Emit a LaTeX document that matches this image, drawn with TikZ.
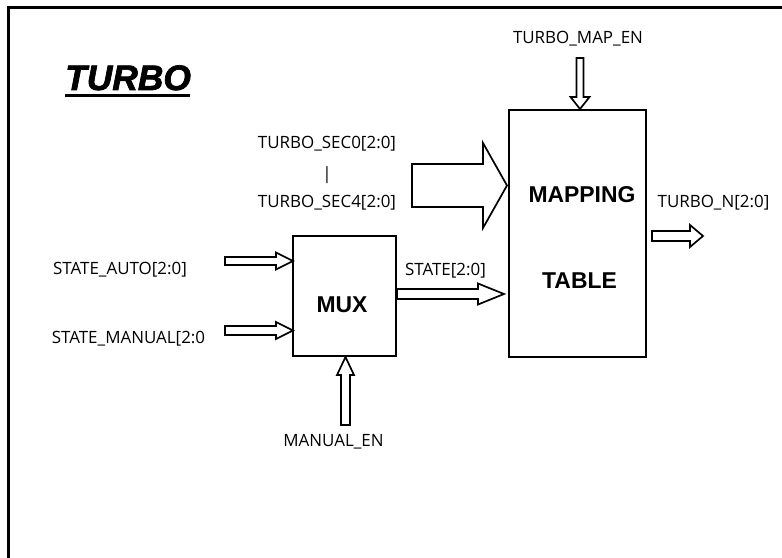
\documentclass[tikz,border=0pt]{standalone}
\usepackage{fontspec}
\setmainfont{Open Sans}
\newfontfamily\arialfont{Liberation Sans}
\newfontfamily\titlefont{Liberation Sans}[FakeBold=2]
\usetikzlibrary{calc}
\tikzset{blkdiag/.style={x=1bp,y=-1bp,font=\fontsize{17}{20}\selectfont}}
\tikzset{blkbox/.style={draw,line width=1.8bp,inner sep=0pt},
         blkname/.style={inner sep=0pt,font=\arialfont\bfseries\fontsize{23}{26}\selectfont},
         sig/.style={inner sep=0pt,anchor=base},
         bus/.style={draw,line width=1.7bp,line join=miter,fill=white}}
% hollow bus arrow: tail, tip, shaft half width, head half width, head length
\newcommand\busarrow[5]{%
  \path ($(#2)!#5!(#1)$) coordinate (hb);
  \draw[bus] ($(#1)!#3!90:(#2)$) -- ($(hb)!#3!-90:(#1)$) -- ($(hb)!#4!-90:(#1)$)
    -- (#2) -- ($(hb)!#4!90:(#1)$) -- ($(hb)!#3!90:(#1)$) -- ($(#1)!#3!-90:(#2)$) -- cycle;}

\begin{document}
\begin{tikzpicture}[blkdiag]
    \useasboundingbox (0,0) rectangle (782,558);
    \clip (0,0) rectangle (782,558);
    \draw[line width=3bp] (8.5,600) -- (8.5,7.5) -- (800,7.5);
    % title
    \node[sig,anchor=base west,font=\titlefont\bfseries\itshape\fontsize{35.5}{40}\selectfont] (title) at (65,90) {TURBO};
    \draw[line width=3.5bp] ($(title.base west)+(0,5.5)$) -- ($(title.base east)+(-1,5.5)$);
    % blocks
    \node[blkbox,minimum width=103bp,minimum height=120bp] (mux) at (344.5,296) {};
    \node[blkbox,minimum width=137bp,minimum height=247bp] (map) at (577.5,233.5) {};
    \node[blkname] (muxname) at (342,304.5) {MUX};
    \node[blkname] (mapname) at (582,195) {MAPPING};
    \node[blkname] (tabname) at (579.5,281) {TABLE};
    % signal names
    \node[sig] (mapen) at (578,43.5) {TURBO\_MAP\_EN};
    \node[sig] (sec0) at (327,149) {TURBO\_SEC0[2:0]};
    \node[inner sep=0pt] (secbar) at (327,175) {|};
    \node[sig] (sec4) at (327,208) {TURBO\_SEC4[2:0]};
    \node[sig] (turbon) at (713.5,208) {TURBO\_N[2:0]};
    \node[sig] (auto) at (120,275) {STATE\_AUTO[2:0]};
    \node[sig] (manual) at (128.5,343) {STATE\_MANUAL[2:0};
    \node[sig] (manen) at (333.5,446.5) {MANUAL\_EN};
    \node[sig] (state) at (445.5,275.5) {STATE[2:0]};
    % bus arrows
    \coordinate (autotail) at (225,261);   \coordinate (autotip) at (293,261);
    \coordinate (mantail) at (225,330.5);  \coordinate (mantip) at (293,330.5);
    \coordinate (entail) at (345.5,425);   \coordinate (entip) at (345.5,357);
    \coordinate (sttail) at (397,294);     \coordinate (sttip) at (504,294);
    \coordinate (sectail) at (412,185.5);  \coordinate (sectip) at (507,185.5);
    \coordinate (mtail) at (580,58);       \coordinate (mtip) at (580,109);
    \coordinate (ntail) at (652,236);      \coordinate (ntip) at (703,236);
    \busarrow{autotail}{autotip}{4bp}{8.5bp}{17bp}
    \busarrow{mantail}{mantip}{4.5bp}{8.5bp}{17bp}
    \busarrow{entail}{entip}{4.5bp}{8.5bp}{18bp}
    \busarrow{sttail}{sttip}{5bp}{10.5bp}{26bp}
    \busarrow{sectail}{sectip}{21.5bp}{42.5bp}{24bp}
    \busarrow{mtail}{mtip}{3.5bp}{9.5bp}{12bp}
    \busarrow{ntail}{ntip}{5bp}{11bp}{13bp}
\end{tikzpicture}
\end{document}
